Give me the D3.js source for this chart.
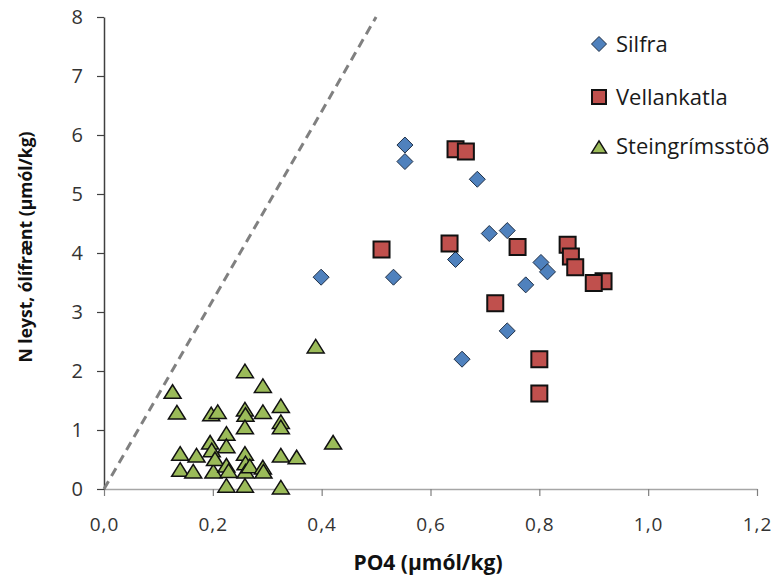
<!DOCTYPE html>
<html>
<head>
<meta charset="utf-8">
<script src="https://cdn.jsdelivr.net/npm/d3@7"></script>
<style>
  html, body { margin: 0; padding: 0; background: #fff; }
  svg { display: block; }
  text { font-family: "Open Sans", "Liberation Sans", sans-serif; }
</style>
</head>
<body>
<svg id="chart" width="776" height="578"></svg>
<script>
// ---- Data ----
const silfraX = [0.553, 0.553, 0.686, 0.708, 0.741, 0.646, 0.399, 0.532, 0.803, 0.815, 0.775, 0.741, 0.658];
const silfraY = [5.83, 5.55, 5.25, 4.33, 4.38, 3.89, 3.59, 3.59, 3.84, 3.68, 3.46, 2.68, 2.20];

const vellX = [0.646, 0.665, 0.510, 0.635, 0.760, 0.852, 0.858, 0.866, 0.918, 0.900, 0.719, 0.800, 0.800];
const vellY = [5.76, 5.72, 4.06, 4.16, 4.10, 4.14, 3.94, 3.76, 3.52, 3.49, 3.15, 2.20, 1.62];

const steinX = [0.389, 0.259, 0.292, 0.126, 0.134, 0.197, 0.209, 0.259, 0.260, 0.292, 0.325, 0.325, 0.325,
                0.259, 0.225, 0.225, 0.195, 0.198, 0.140, 0.170, 0.259, 0.325, 0.354, 0.421, 0.140, 0.164,
                0.201, 0.204, 0.225, 0.229, 0.260, 0.260, 0.268, 0.292, 0.293, 0.225, 0.259, 0.325];
const steinY = [2.40, 1.98, 1.73, 1.63, 1.28, 1.25, 1.29, 1.33, 1.24, 1.29, 1.39, 1.12, 1.03,
                1.03, 0.92, 0.71, 0.77, 0.64, 0.58, 0.55, 0.58, 0.55, 0.52, 0.77, 0.31, 0.28,
                0.28, 0.49, 0.38, 0.29, 0.42, 0.28, 0.37, 0.35, 0.28, 0.04, 0.04, 0.01];

const seriesNames = ["Silfra", "Vellankatla", "Steingrímsstöð"];
const xTicks = [0, 0.2, 0.4, 0.6, 0.8, 1.0, 1.2];
const yTicks = [0, 1, 2, 3, 4, 5, 6, 7, 8];
const redfieldX = [0, 0.5];
const redfieldY = [0, 8];

const xTitle = "PO4 (µmól/kg)";
const yTitle = "N leyst, ólífrænt (µmól/kg)";

// ---- Layout ----
const svg = d3.select("#chart");
const x = d3.scaleLinear().domain([0, 1.2]).range([104, 757]);
const y = d3.scaleLinear().domain([0, 8]).range([489, 17]);
const fmt = d => d3.format(".1f")(d).replace(".", ",");

// x axis
const xAxis = svg.append("g").attr("transform", "translate(0,489)")
  .call(d3.axisBottom(x).tickValues(xTicks).tickFormat(fmt).tickSize(7).tickSizeOuter(0).tickPadding(22));
xAxis.select(".domain").attr("stroke", "#a6a6a6").attr("stroke-width", 1.5);
xAxis.selectAll(".tick line").attr("stroke", "#7f7f7f").attr("stroke-width", 1.2);
xAxis.selectAll(".tick text").attr("fill", "#333").attr("font-size", 19)
  .attr("letter-spacing", 1)
  .attr("font-family", "'Open Sans', sans-serif");

// y axis
const yAxis = svg.append("g").attr("transform", "translate(104,0)")
  .call(d3.axisLeft(y).tickValues(yTicks).tickFormat(d3.format("d")).tickSize(7).tickSizeOuter(0).tickPadding(14));
yAxis.select(".domain").attr("stroke", "#404040").attr("stroke-width", 1.5);
yAxis.selectAll(".tick line").attr("stroke", "#404040").attr("stroke-width", 1.2);
yAxis.selectAll(".tick text").attr("fill", "#333").attr("font-size", 20)
  .attr("font-family", "'Open Sans', sans-serif");

// Redfield dashed line
svg.append("line")
  .attr("x1", x(redfieldX[0])).attr("y1", y(redfieldY[0]))
  .attr("x2", x(redfieldX[1])).attr("y2", y(redfieldY[1]))
  .attr("stroke", "#808080").attr("stroke-width", 3)
  .attr("stroke-dasharray", "9,6");

// Marker shapes
const shapes = {
  diamond: (r) => `M0,${-r}L${r},0L0,${r}L${-r},0Z`,
  square: (r) => `M${-r},${-r}H${r}V${r}H${-r}Z`,
  triangle: (r) => `M0,${-r * 0.95}L${r},${r * 0.65}L${-r},${r * 0.65}Z`
};

const series = [
  { name: seriesNames[0], xs: silfraX, ys: silfraY, shape: "diamond", r: 8, fill: "#4f81bd", stroke: "#1f2f45", sw: 1 },
  { name: seriesNames[1], xs: vellX, ys: vellY, shape: "square", r: 8, fill: "#c0504d", stroke: "#111", sw: 2 },
  { name: seriesNames[2], xs: steinX, ys: steinY, shape: "triangle", r: 8.5, fill: "#9bbb59", stroke: "#111", sw: 1.5 }
];

series.forEach(s => {
  const pts = s.xs.map((v, i) => [v, s.ys[i]]);
  svg.append("g").selectAll("path").data(pts).join("path")
    .attr("transform", d => `translate(${x(d[0])},${y(d[1])})`)
    .attr("d", shapes[s.shape](s.r))
    .attr("fill", s.fill).attr("stroke", s.stroke).attr("stroke-width", s.sw)
    .attr("stroke-linejoin", "miter");
});

// Legend
const legend = svg.append("g");
const legY = [44, 97, 146];
series.forEach((s, i) => {
  legend.append("path")
    .attr("transform", `translate(599,${legY[i] + (s.shape === "triangle" ? 2 : 0)})`)
    .attr("d", shapes[s.shape](s.shape === "square" ? 7 : 7.5))
    .attr("fill", s.fill).attr("stroke", s.stroke).attr("stroke-width", s.sw);
  legend.append("text")
    .attr("x", 616).attr("y", legY[i]).attr("dy", "0.36em")
    .attr("font-size", 22).attr("fill", "#1a1a1a")
    .text(s.name);
});

// Axis titles
svg.append("text")
  .attr("x", 428).attr("y", 570)
  .attr("text-anchor", "middle").attr("font-size", 21).attr("font-weight", "bold")
  .attr("fill", "#111").text(xTitle);

svg.append("text")
  .attr("transform", "translate(32,247) rotate(-90)")
  .attr("text-anchor", "middle").attr("font-size", 17.5).attr("font-weight", "bold")
  .attr("fill", "#111").text(yTitle);
</script>
</body>
</html>
